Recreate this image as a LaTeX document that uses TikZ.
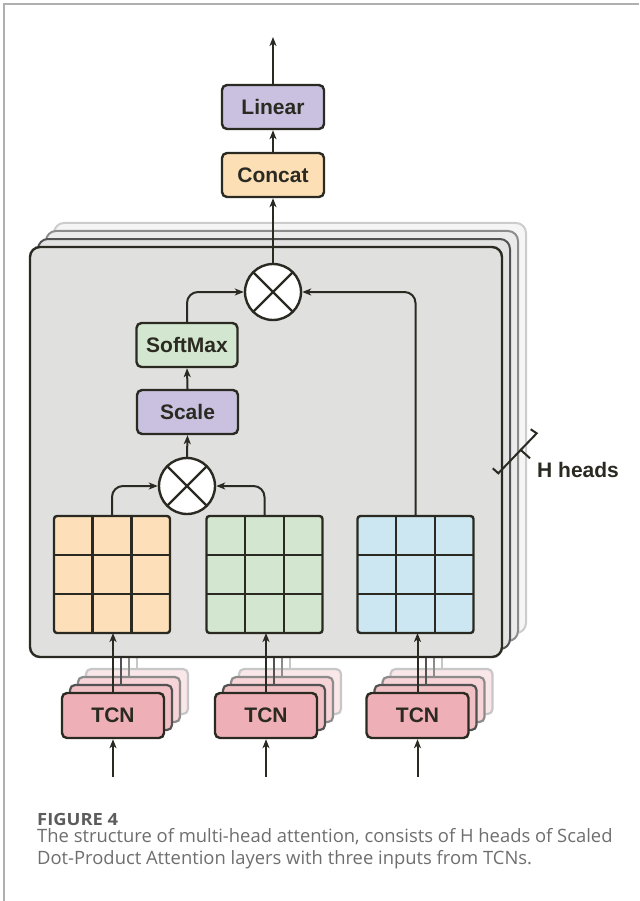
\documentclass[tikz,border=0pt]{standalone}
\usepackage{fontspec}
\usepackage{graphicx}
\setmainfont{Liberation Sans}
\newfontfamily\capfont{Open Sans}
\usetikzlibrary{arrows.meta,calc}

\definecolor{ink}{HTML}{2B2A22}
\definecolor{lavender}{HTML}{C9C1DF}
\definecolor{peach}{HTML}{FDDFB6}
\definecolor{mint}{HTML}{D3E6CF}
\definecolor{rose}{HTML}{EEB0B6}
\definecolor{qfill}{HTML}{FDE0BA}
\definecolor{kfill}{HTML}{D3E6CF}
\definecolor{vfill}{HTML}{CCE7F2}
\definecolor{panel}{HTML}{E0E0DF}
\definecolor{frame}{HTML}{B0B0B0}
\definecolor{capgray}{HTML}{6E6E6E}
\definecolor{figgray}{HTML}{5C5C5C}

\tikzset{
  blk/.style={draw=ink, line width=2.4pt, rounded corners=5pt,
    minimum width=102pt, minimum height=44pt, inner sep=0pt,
    font=\bfseries\fontsize{21}{21}\selectfont, text=ink},
  arr/.style={draw=ink, line width=2pt,
    -{Stealth[length=9pt,width=7pt,inset=2.5pt]}},
  link/.style={arr, rounded corners=11pt},
  mul/.style={circle, draw=ink, fill=white, line width=2.4pt,
    minimum size=56pt, inner sep=0pt},
  gridbox/.style={draw=ink, line width=2.4pt, rounded corners=3pt,
    minimum width=116pt, minimum height=117pt, inner sep=0pt, outer sep=0pt},
  cell/.style={draw=ink, line width=2.4pt},
  copybox/.style={line width=2.2pt, rounded corners=5pt},
  captext/.style={anchor=base west, inner sep=0pt, text=capgray,
    font=\capfont\fontsize{18.4}{22}\selectfont},
}

\begin{document}
\begin{tikzpicture}[x=1pt,y=-1pt]
\useasboundingbox (0,0) rectangle (639,901);

% page frame
\draw[frame, line width=1.4pt] (4,901) -- (4,4) -- (639,4);

% stacked heads behind the main panel
\draw[draw=black!20, fill=black!4, line width=2pt, rounded corners=10pt]
  (54,223) rectangle (526,633);
\draw[draw=black!45, fill=black!8, line width=2pt, rounded corners=10pt]
  (46,231) rectangle (518,641);
\draw[draw=black!68, fill=black!11, line width=2pt, rounded corners=10pt]
  (38,239) rectangle (510,649);

% stacked TCN copies with their outputs
\foreach \cx in {113,266,417.5} {
  \draw[black!22, line width=2pt] (\cx+24,669) -- (\cx+24,657);
  \draw[copybox, draw=black!22, fill=rose!30] (\cx-51+24,669) rectangle (\cx+51+24,714);
  \draw[black!45, line width=2pt] (\cx+16,677) -- (\cx+16,657);
  \draw[copybox, draw=black!45, fill=rose!55] (\cx-51+16,677) rectangle (\cx+51+16,722);
  \draw[black!68, line width=2pt] (\cx+8,685) -- (\cx+8,657);
  \draw[copybox, draw=black!68, fill=rose!80] (\cx-51+8,685) rectangle (\cx+51+8,730);
}

% front head
\draw[draw=ink, fill=panel, line width=2.4pt, rounded corners=10pt]
  (30,247) rectangle (502,657);

% output stack
\node[blk, fill=lavender] (linear) at (273,107) {Linear};
\node[blk, fill=peach] (concat) at (273,175) {Concat};
\coordinate (out) at (273,37);

% attention blocks
\node[mul] (m1) at (273,292) {};
\node[blk, fill=mint, minimum width=101pt] (softmax) at (187,345) {SoftMax};
\node[blk, fill=lavender, minimum width=101pt] (scale) at (187.5,412) {Scale};
\node[mul] (m2) at (187,486) {};

\foreach \m in {m1,m2} {
  \draw[ink, line width=2.4pt] ($(\m.center)+(19.5,-19.5)$) -- ($(\m.center)+(-19.5,19.5)$);
  \draw[ink, line width=2.4pt] ($(\m.center)+(-19.5,-19.5)$) -- ($(\m.center)+(19.5,19.5)$);
}

% Q, K, V matrices
\node[gridbox, fill=qfill] (gq) at (112,574.5) {};
\node[gridbox, fill=kfill] (gk) at (264.5,574.5) {};
\node[gridbox, fill=vfill] (gv) at (415.5,574.5) {};
\foreach \g in {gq,gk,gv} {
  \foreach \t in {1,2} {
    \draw[cell] ($(\g.north west)!\t/3!(\g.north east)$) -- ($(\g.south west)!\t/3!(\g.south east)$);
    \draw[cell] ($(\g.north west)!\t/3!(\g.south west)$) -- ($(\g.north east)!\t/3!(\g.south east)$);
  }
}

% TCN encoders
\node[blk, fill=rose, minimum height=45pt] (tq) at (113,715.5) {TCN};
\node[blk, fill=rose, minimum height=45pt] (tk) at (266,715.5) {TCN};
\node[blk, fill=rose, minimum height=45pt] (tv) at (417.5,715.5) {TCN};
\coordinate (iq) at (113,777);
\coordinate (ik) at (266,777);
\coordinate (iv) at (417.5,777);

% connectors
\draw[arr] (iq) -- (tq.south);
\draw[arr] (ik) -- (tk.south);
\draw[arr] (iv) -- (tv.south);
\draw[arr] (tq.north) -- (tq.north |- gq.south);
\draw[arr] (tk.north) -- (tk.north |- gk.south);
\draw[arr] (tv.north) -- (tv.north |- gv.south);
\draw[link] (gq.north) |- (m2.west);
\draw[link] (gk.north) |- (m2.east);
\draw[arr] (m2.north) -- (scale.south);
\draw[arr] (scale.north) -- (softmax.south);
\draw[link] (softmax.north) |- (m1.west);
\draw[link] (gv.north) |- (m1.east);
\draw[arr] (m1.north) -- (concat.south);
\draw[arr] (concat.north) -- (linear.south);
\draw[arr] (linear.north) -- (out);

% H heads marker
\draw[ink, line width=2pt] (492.7,468.3) -- (498.3,473.3) -- (536.7,433.3) -- (530.7,429.3);
\draw[ink, line width=2pt] (520,449.3) -- (530,458.3);
\node[anchor=base west, text=ink, font=\bfseries\fontsize{21}{21}\selectfont, inner sep=0pt]
  (hh) at (537,477) {H heads};

% caption
\node[anchor=base west, inner sep=0pt, text=figgray] (fig) at (37,825)
  {\resizebox{81pt}{12.2pt}{\capfont\bfseries FIGURE 4}};
\node[captext] (cap1) at (37,842)
  {The structure of multi-head attention, consists of H heads of Scaled};
\node[captext] (cap2) at (37,864)
  {Dot-Product Attention layers with three inputs from TCNs.};
\end{tikzpicture}
\end{document}
